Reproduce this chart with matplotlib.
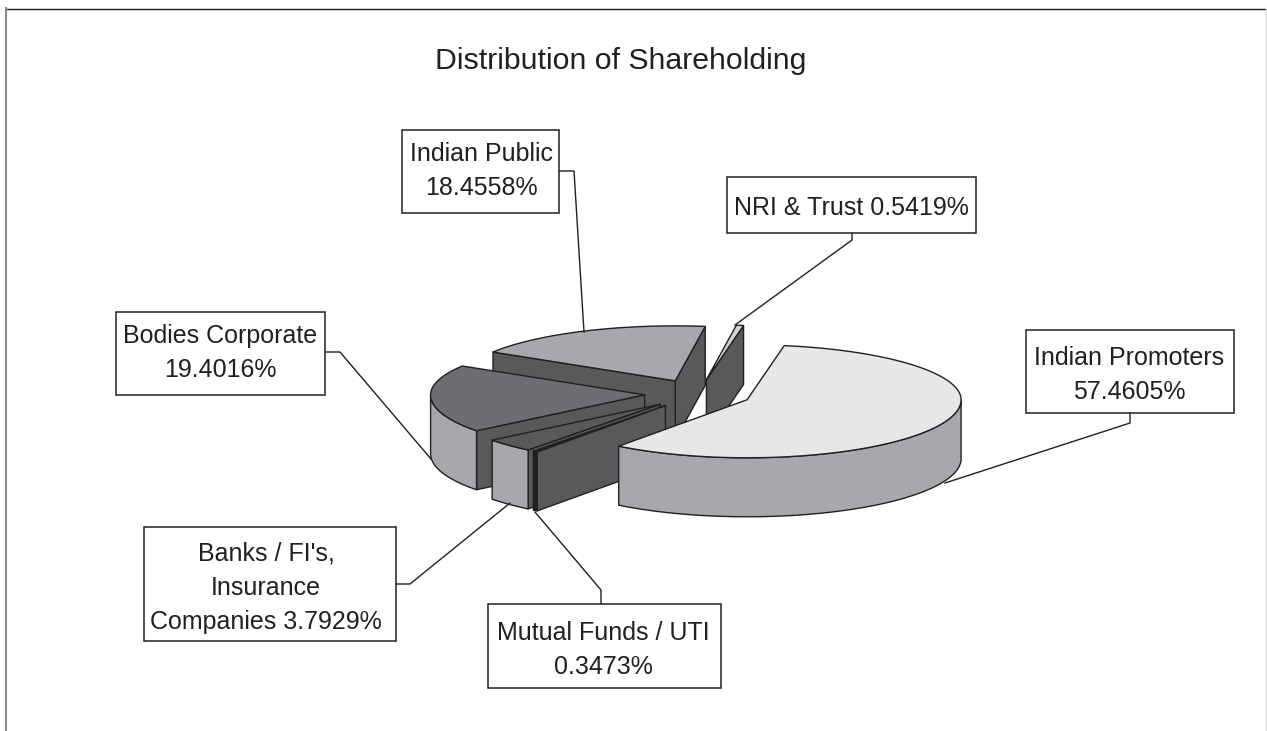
"""Distribution of Shareholding -- exploded pseudo-3D pie, drawn in pixel coords."""
import numpy as np
import matplotlib
matplotlib.use("Agg")
import matplotlib.pyplot as plt

plt.rcParams["font.family"] = ["Liberation Sans", "DejaVu Sans"]

# ---- data (clockwise from the start angle) ----
names = ["Indian Promoters", "Mutual Funds / UTI", "Banks / FI's,\nInsurance\nCompanies",
         "Bodies Corporate", "Indian Public", "NRI & Trust"]
shares = [57.4605, 0.3473, 3.7929, 19.4016, 18.4558, 0.5419]
share_text = ["57.4605%", "0.3473%", "3.7929%", "19.4016%", "18.4558%", "0.5419%"]

# ---- pie look ----
top_col = ["#e6e7e8", "#231f20", "#58595b", "#6d6e71", "#a7a8ab", "#d1d3d4"]
rim_col = ["#a7a8ab", "#231f20", "#a7a8ab", "#a7a8ab", "#a7a8ab", "#a7a8ab"]
cut_col = "#58595b"
INK = "#231f20"
CX, CY = 698, 394      # centre before explosion
A = 214                # ellipse radius across
B_BACK, B_FRONT = 55, 58   # back half looks flatter (perspective)
DEPTH = 59
EXPLODE = 0.25
START = 80.0


def project(px, py, deg):
    t = np.deg2rad(deg)
    s = np.sin(t)
    return px + A*np.cos(t), py - np.where(s > 0, B_BACK, B_FRONT)*s


fig = plt.figure(figsize=(12.67, 7.31), dpi=100)
ax = fig.add_axes([0, 0, 1, 1])
ax.set_xlim(0, 1267); ax.set_ylim(731, 0); ax.axis("off")

# ---- page frame ----
ax.plot([6, 1267], [8.5, 8.5], color=INK, lw=1.0)
ax.plot([6, 6], [8, 731], color="#8a8a8a", lw=1.5)
ax.plot([1266, 1266], [8, 731], color="#dddddd", lw=1.0)

# ---- wedge angles ----
sweeps = np.array(shares) / sum(shares) * 360
ends = START - np.cumsum(sweeps)
starts = ends + sweeps

# painter's order: back slices first, promoters last
for i in [5, 4, 3, 2, 1, 0]:
    hi, lo = starts[i], ends[i]
    mid = np.deg2rad((hi + lo) / 2)
    px = CX + EXPLODE*A*np.cos(mid)
    py = CY - EXPLODE*B_FRONT*np.sin(mid)

    # cut faces, only those turned to the viewer
    for th, show in ((lo, np.cos(np.deg2rad(lo)) > 0), (hi, np.cos(np.deg2rad(hi)) < 0)):
        if show:
            ex, ey = project(px, py, th)
            ax.fill([px, ex, ex, px], [py, ey, ey+DEPTH, py+DEPTH],
                    fc=cut_col, ec=INK, lw=1.0, joinstyle="round")

    # outer rim, only the front half of the ellipse
    tt = np.linspace(lo, hi, 300)
    tt = tt[np.sin(np.deg2rad(tt)) <= 0]
    if len(tt) > 1:
        xs, ys = project(px, py, tt)
        ax.fill(np.r_[xs, xs[::-1]], np.r_[ys, ys[::-1] + DEPTH],
                fc=rim_col[i], ec=INK, lw=1.0, joinstyle="round")

    # top
    xs, ys = project(px, py, np.linspace(lo, hi, 120))
    ax.fill(np.r_[px, xs], np.r_[py, ys], fc=top_col[i], ec=INK, lw=1.0, joinstyle="round")

# ---- callouts ----
ax.text(621, 61, "Distribution of Shareholding", ha="center", va="center", fontsize=21.8, color=INK)

# box corners, text centre, leader line
boxes = [
    (1026, 330, 1234, 413, 1129, 375, f"{names[0]}\n{share_text[0]}", [(1130, 413), (1130, 423), (945, 483)]),
    (488, 604, 721, 688, 603, 650, f"{names[1]}\n{share_text[1]}", [(601, 604), (601, 590), (535, 512)]),
    (144, 527, 396, 641, 266, 588, f"{names[2]} {share_text[2]}", [(396, 584), (410, 584), (510, 503)]),
    (116, 312, 325, 395, 220, 353, f"{names[3]}\n{share_text[3]}", [(325, 352), (340, 352), (431, 459)]),
    (402, 130, 559, 213, 481, 171, f"{names[4]}\n{share_text[4]}", [(559, 171), (574, 171), (584, 332)]),
    (727, 177, 976, 233, 851, 208, f"{names[5]} {share_text[5]}", [(852, 233), (852, 240), (735, 325)]),
]
for x0, y0, x1, y1, tx, ty, txt, lead in boxes:
    ax.plot(*zip(*lead), color=INK, lw=1.0, zorder=4)
    ax.fill([x0, x1, x1, x0], [y0, y0, y1, y1], fc="white", ec=INK, lw=1.1, zorder=5)
    ax.text(tx, ty, txt, ha="center", va="center", fontsize=18,
            color=INK, linespacing=1.55, zorder=6)

fig.savefig("out.png", dpi=100)
